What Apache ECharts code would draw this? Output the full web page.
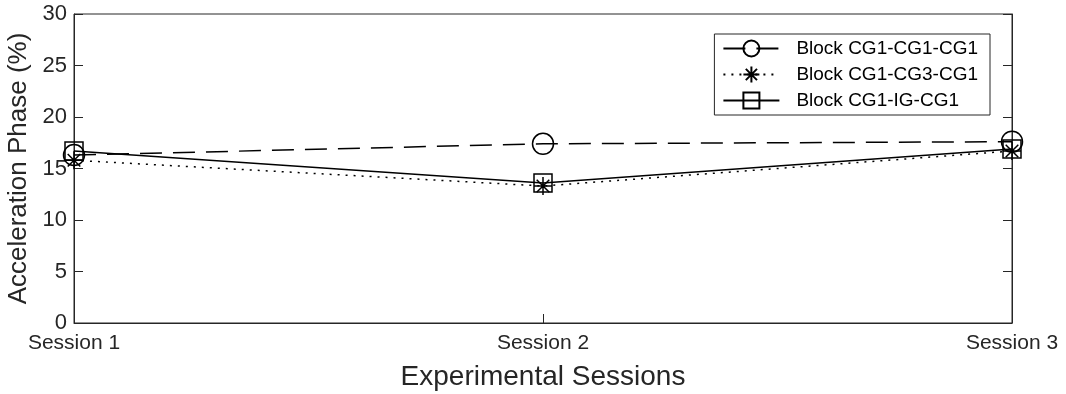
<!DOCTYPE html>
<html>
<head>
<meta charset="utf-8">
<script src="https://cdn.jsdelivr.net/npm/echarts@6/dist/echarts.min.js"></script>
<style>
  html, body { margin: 0; padding: 0; background: #fff; }
  #chart { width: 1066px; height: 394px; }
</style>
</head>
<body>
<div id="chart"></div>
<script>
// Session labels along the x axis
const sessions = ['Session 1', 'Session 2', 'Session 3'];

// Acceleration phase (%) per block
const blockCG1CG1CG1 = [16.3, 17.4, 17.6];
const blockCG1CG3CG1 = [15.8, 13.3, 16.7];
const blockCG1IGCG1 = [16.7, 13.6, 16.9];

const seriesNames = ['Block CG1-CG1-CG1', 'Block CG1-CG3-CG1', 'Block CG1-IG-CG1'];

// y axis ticks
const yTicks = [0, 5, 10, 15, 20, 25, 30];

const ink = '#262626';
const fontFamily = '"Liberation Sans", Arial, Helvetica, sans-serif';
const asterisk = 'path://M10,0L10,20M0,10L20,10M3,3L17,17M3,17L17,3';

const chart = echarts.init(document.getElementById('chart'));

function lineSeries(name, data, symbol, size, dash) {
  return {
    name: name,
    type: 'line',
    data: data,
    symbol: symbol,
    symbolSize: size,
    showAllSymbol: true,
    lineStyle: { color: '#000', width: 1.5, type: dash },
    itemStyle: { color: 'rgba(0,0,0,0)', borderColor: '#000', borderWidth: 1.5 },
    emphasis: { disabled: true },
    z: 3
  };
}

chart.setOption({
  animation: false,
  backgroundColor: '#fff',
  grid: {
    left: 74, right: 54, top: 14, bottom: 71,
    outerBoundsMode: 'none',
    containLabel: false,
    show: true, borderColor: ink, borderWidth: 1
  },
  legend: {
    right: 76, top: 34,
    orient: 'vertical',
    itemWidth: 56, itemHeight: 20, itemGap: 7,
    padding: [5, 12, 5, 8],
    backgroundColor: '#fff',
    borderColor: ink, borderWidth: 1,
    borderRadius: 0,
    textStyle: { fontFamily: fontFamily, fontSize: 19, color: '#000', padding: [0, 0, 0, 12] },
    data: seriesNames
  },
  xAxis: {
    type: 'category',
    data: sessions,
    boundaryGap: false,
    name: 'Experimental Sessions',
    nameLocation: 'middle',
    nameGap: 40,
    nameTextStyle: { fontFamily: fontFamily, fontSize: 28, color: ink },
    axisLine: { lineStyle: { color: ink, width: 1 } },
    axisTick: { inside: true, length: 9, lineStyle: { color: ink } },
    axisLabel: { fontFamily: fontFamily, fontSize: 21, color: ink, margin: 10 },
    splitLine: { show: false }
  },
  yAxis: [{
    type: 'value',
    min: yTicks[0], max: yTicks[yTicks.length - 1], interval: 5,
    name: 'Acceleration Phase (%)',
    nameLocation: 'middle',
    nameGap: 40,
    nameTextStyle: { fontFamily: fontFamily, fontSize: 26, color: ink },
    axisLine: { show: true, lineStyle: { color: ink, width: 1 } },
    axisTick: { show: true, inside: true, length: 9, lineStyle: { color: ink } },
    axisLabel: { fontFamily: fontFamily, fontSize: 22, color: ink, margin: 7 },
    splitLine: { show: false }
  }, {
    type: 'value',
    position: 'right',
    min: yTicks[0], max: yTicks[yTicks.length - 1], interval: 5,
    axisLine: { show: true, lineStyle: { color: ink, width: 1 } },
    axisTick: { show: true, inside: true, length: 9, lineStyle: { color: ink } },
    axisLabel: { show: false },
    splitLine: { show: false }
  }],
  series: [
    lineSeries(seriesNames[0], blockCG1CG1CG1, 'circle', 21, [22, 11]),
    lineSeries(seriesNames[1], blockCG1CG3CG1, asterisk, 18, [2, 6]),
    lineSeries(seriesNames[2], blockCG1IGCG1, 'rect', 18, 'solid')
  ]
});
</script>
</body>
</html>
